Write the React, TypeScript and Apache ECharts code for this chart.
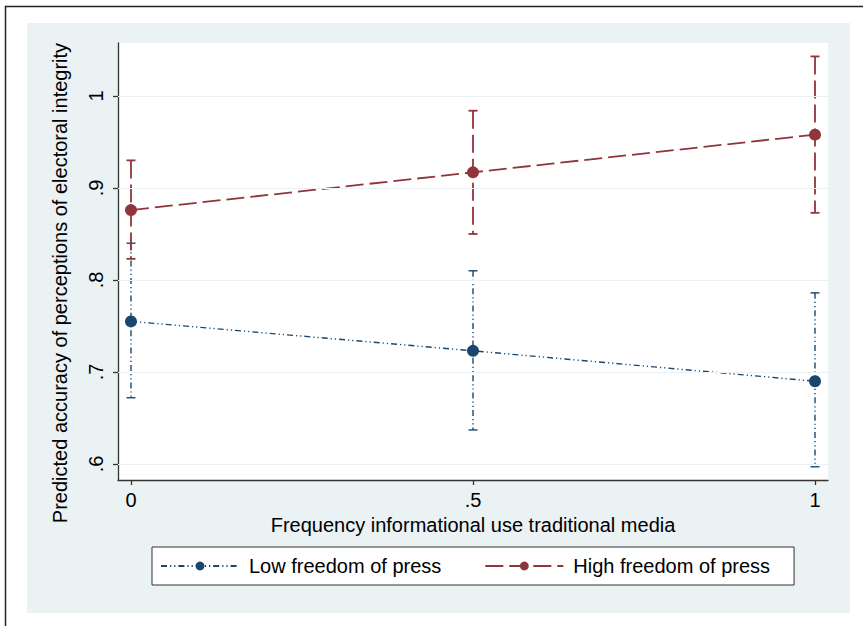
import React, { useEffect, useRef } from "react";
import * as echarts from "echarts";

const xValues = [0, 0.5, 1];
const xTickLabels = ["0", ".5", "1"];
const yTicks = [0.6, 0.7, 0.8, 0.9, 1];
const yTickLabels = [".6", ".7", ".8", ".9", "1"];

const lowName = "Low freedom of press";
const lowMean = [0.755, 0.723, 0.69];
const lowLo = [0.672, 0.637, 0.597];
const lowHi = [0.84, 0.81, 0.786];

const highName = "High freedom of press";
const highMean = [0.876, 0.917, 0.958];
const highLo = [0.823, 0.85, 0.873];
const highHi = [0.93, 0.984, 1.043];

const xTitle = "Frequency informational use traditional media";
const yTitle = "Predicted accuracy of perceptions of electoral integrity";

const FONT = "'Liberation Sans', Arial, Helvetica, sans-serif";
const NAVY = "#1a476f";
const MAROON = "#90353b";
const LOW_DASH = [6, 3, 1.2, 3, 1.2, 3];
const HIGH_DASH = [18, 6];
const FS = 20;

function ciSeries(name: string, lo: number[], hi: number[], color: string, width: number, dash: number[]) {
  return {
    type: "custom",
    name: name + " CI",
    z: 3,
    data: xValues.map((x, i) => [x, lo[i], hi[i]]),
    encode: { x: 0, y: [1, 2] },
    renderItem: (params: any, api: any) => {
      const x = api.value(0);
      const p1 = api.coord([x, api.value(2)]);
      const p2 = api.coord([x, api.value(1)]);
      const w = 4.5;
      const solid = { stroke: color, lineWidth: width };
      return {
        type: "group",
        children: [
          { type: "line", shape: { x1: p1[0], y1: p1[1], x2: p2[0], y2: p2[1] }, style: { stroke: color, lineWidth: width, lineDash: dash } },
          { type: "line", shape: { x1: p1[0] - w, y1: p1[1], x2: p1[0] + w, y2: p1[1] }, style: solid },
          { type: "line", shape: { x1: p2[0] - w, y1: p2[1], x2: p2[0] + w, y2: p2[1] }, style: solid },
        ],
      };
    },
  };
}

export default function App() {
  const ref = useRef<HTMLDivElement>(null);
  useEffect(() => {
    if (!ref.current) return;
    const chart = echarts.init(ref.current, null, { renderer: "svg" });
    chart.setOption({
      animation: false,
      backgroundColor: "#ffffff",
      textStyle: { fontFamily: FONT },
      graphic: [
        {
          type: "rect",
          z: -20,
          silent: true,
          shape: { x: 5.5, y: 6.5, width: 900, height: 700 },
          style: { fill: "#ffffff", stroke: "#222", lineWidth: 1.5 },
        },
        {
          type: "rect",
          z: -10,
          silent: true,
          shape: { x: 27, y: 23, width: 823, height: 590 },
          style: { fill: "#eaf2f3" },
        },
        {
          type: "text",
          x: 60,
          y: 283,
          rotation: Math.PI / 2,
          style: {
            text: yTitle,
            fontFamily: FONT,
            fontSize: FS,
            fill: "#000",
            textAlign: "center",
            textVerticalAlign: "middle",
          },
        },
      ],
      grid: {
        left: 118,
        top: 43,
        right: 35,
        bottom: 146,
        show: true,
        backgroundColor: "#ffffff",
        borderWidth: 0,
      },
      xAxis: {
        type: "value",
        min: -0.019,
        max: 1.019,
        name: xTitle,
        nameLocation: "middle",
        nameGap: 31,
        nameTextStyle: { fontSize: FS, color: "#000", fontFamily: FONT },
        axisLine: { show: true, onZero: false, lineStyle: { color: "#333", width: 1.3 } },
        axisTick: { show: true, length: 5, customValues: xValues, lineStyle: { color: "#333", width: 1.3 } },
        axisLabel: {
          customValues: xValues,
          margin: 10,
          fontSize: FS,
          color: "#000",
          fontFamily: FONT,
          formatter: (v: number) => {
            const i = xValues.findIndex((x) => Math.abs(x - v) < 1e-6);
            return i >= 0 ? xTickLabels[i] : "";
          },
        },
        splitLine: { show: false },
      },
      yAxis: {
        type: "value",
        min: 0.5826,
        max: 1.0576,
        axisLine: { show: true, onZero: false, lineStyle: { color: "#333", width: 1.3 } },
        axisTick: { show: true, length: 5, customValues: yTicks, lineStyle: { color: "#333", width: 1.3 } },
        axisLabel: {
          customValues: yTicks,
          rotate: 90,
          margin: 12,
          fontSize: FS,
          color: "#000",
          fontFamily: FONT,
          formatter: (v: number) => {
            const i = yTicks.findIndex((y) => Math.abs(y - v) < 1e-6);
            return i >= 0 ? yTickLabels[i] : "";
          },
        },
        splitLine: { show: false },
      },
      legend: {
        data: [lowName, highName],
        left: 152,
        top: 547,
        orient: "horizontal",
        backgroundColor: "#ffffff",
        borderColor: "#333",
        borderWidth: 1,
        borderRadius: 0,
        padding: [9, 24, 9, 8],
        itemWidth: 78,
        itemHeight: 11,
        itemGap: 43,
        textStyle: { fontSize: FS, color: "#000", fontFamily: FONT, padding: [0, 0, 0, 5] },
      },
      series: [
        {
          type: "line",
          name: "grid",
          data: [],
          z: 1,
          silent: true,
          markLine: {
            silent: true,
            symbol: "none",
            label: { show: false },
            lineStyle: { color: "#eaf2f3", width: 1.2, type: "solid" },
            data: yTicks.map((v) => ({ yAxis: v })),
          },
        },
        ciSeries(lowName, lowLo, lowHi, NAVY, 1.4, LOW_DASH),
        ciSeries(highName, highLo, highHi, MAROON, 1.8, HIGH_DASH),
        {
          type: "line",
          name: lowName,
          z: 4,
          data: xValues.map((x, i) => [x, lowMean[i]]),
          symbol: "circle",
          symbolSize: 12,
          itemStyle: { color: NAVY },
          lineStyle: { color: NAVY, width: 1.4, type: LOW_DASH },
        },
        {
          type: "line",
          name: highName,
          z: 4,
          data: xValues.map((x, i) => [x, highMean[i]]),
          symbol: "circle",
          symbolSize: 12,
          itemStyle: { color: MAROON },
          lineStyle: { color: MAROON, width: 1.8, type: HIGH_DASH },
        },
      ],
    });
    return () => chart.dispose();
  }, []);
  return (
    <div
      ref={ref}
      style={{ position: "absolute", left: 0, top: 0, width: 863, height: 626 }}
    />
  );
}
